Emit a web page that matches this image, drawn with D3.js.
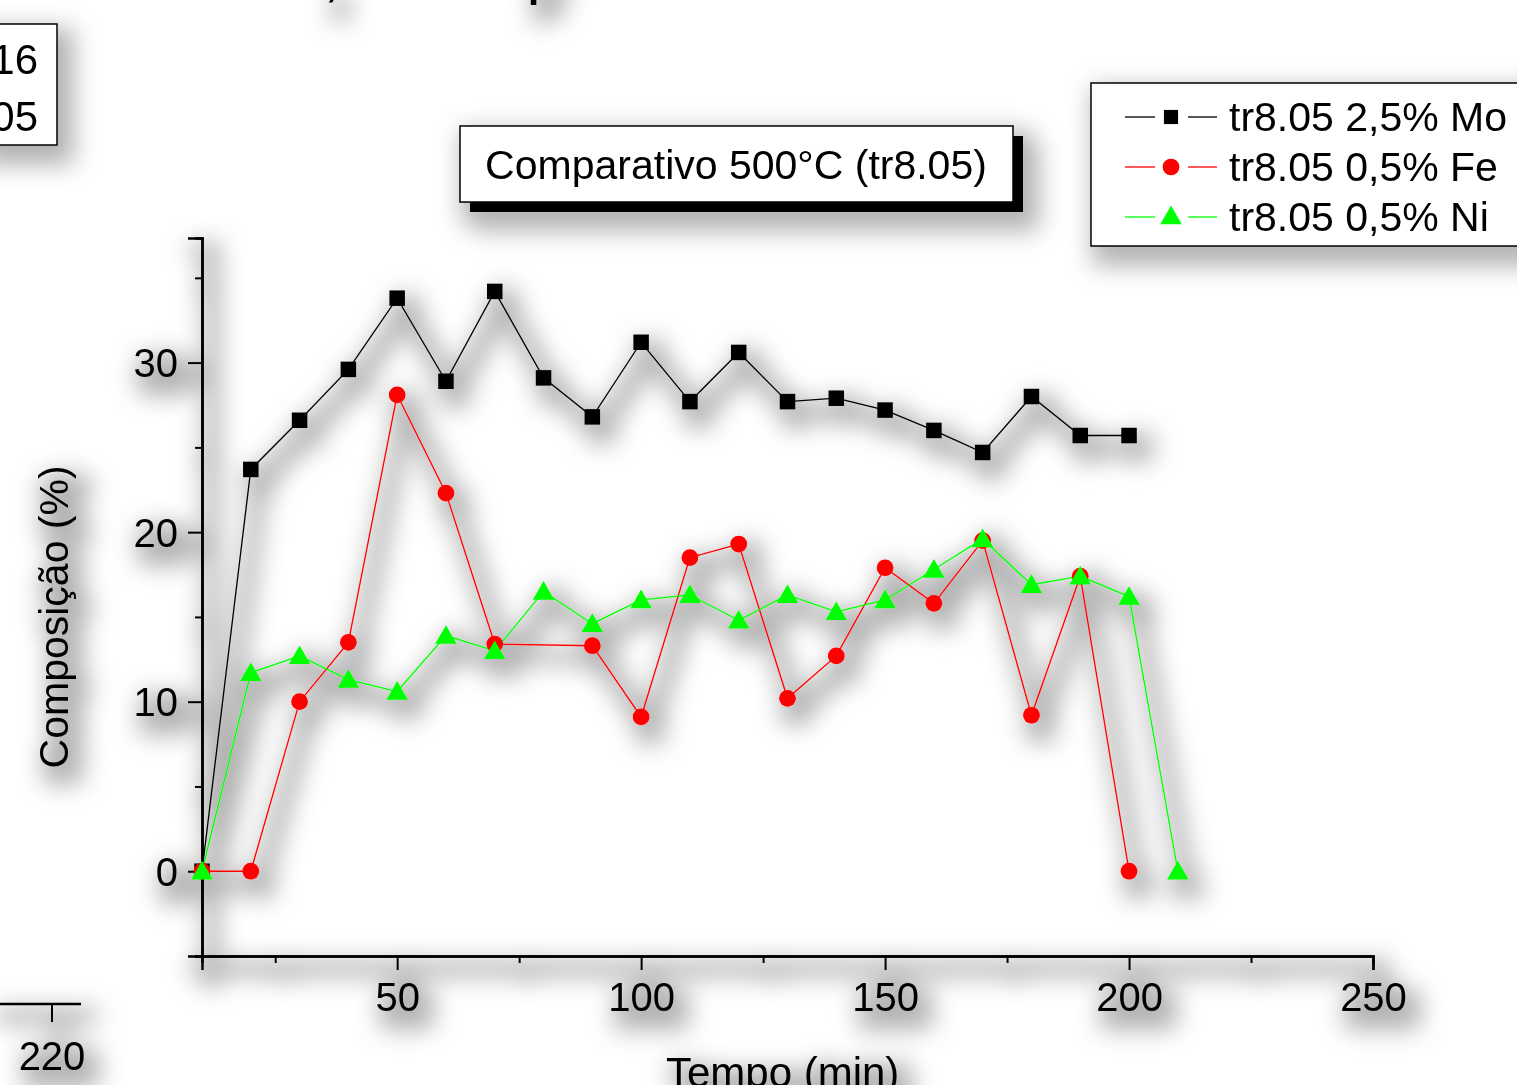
<!DOCTYPE html>
<html>
<head>
<meta charset="utf-8">
<script src="https://cdn.jsdelivr.net/npm/d3@7"></script>
<style>
  body { margin: 0; background: #fff; }
  svg { display: block; font-family: "Liberation Sans", Arial, sans-serif; }
</style>
</head>
<body>
<div id="chart"></div>
<script>
const W = 1517, H = 1085;

// data
const timeMo = [10, 20, 30, 40, 50, 60, 70, 80, 90, 100, 110, 120, 130, 140, 150, 160, 170, 180, 190, 200];
const valMo = [0, 23.7, 26.6, 29.6, 33.8, 28.9, 34.2, 29.1, 26.8, 31.2, 27.7, 30.6, 27.7, 27.9, 27.2, 26.0, 24.7, 28.0, 25.7, 25.7];
const timeFe = [10, 20, 30, 40, 50, 60, 70, 90, 100, 110, 120, 130, 140, 150, 160, 170, 180, 190, 200];
const valFe = [0, 0, 10.0, 13.5, 28.1, 22.3, 13.4, 13.3, 9.1, 18.5, 19.3, 10.2, 12.7, 17.9, 15.8, 19.5, 9.2, 17.4, 0];
const timeNi = [10, 20, 30, 40, 50, 60, 70, 80, 90, 100, 110, 120, 130, 140, 150, 160, 170, 180, 190, 200, 210];
const valNi = [0, 11.7, 12.7, 11.3, 10.6, 13.9, 13.0, 16.5, 14.6, 16.0, 16.3, 14.8, 16.3, 15.3, 16.0, 17.8, 19.6, 16.9, 17.4, 16.2, 0];

const seriesNames = ["tr8.05 2,5% Mo", "tr8.05 0,5% Fe", "tr8.05 0,5% Ni"];
const seriesColors = ["#000000", "#ff0000", "#00ff00"];
const seriesShapes = [d3.symbolSquare, d3.symbolCircle, d3.symbolTriangle];
const symSizes = [240, 220, 200];

const xTicks = [50, 100, 150, 200, 250];
const xMinor = [25, 75, 125, 175, 225];
const yTicks = [0, 10, 20, 30];
const yMinor = [-5, 5, 15, 25, 35];

const series = [
  { name: seriesNames[0], pts: timeMo.map((t, i) => [t, valMo[i]]) },
  { name: seriesNames[1], pts: timeFe.map((t, i) => [t, valFe[i]]) },
  { name: seriesNames[2], pts: timeNi.map((t, i) => [t, valNi[i]]) },
];

const svg = d3.select('#chart').append('svg')
  .attr('width', W)
  .attr('height', H);

// blurred drop shadow used everywhere
const defs = svg.append('defs');
const f = defs.append('filter').attr('id', 'sh')
  .attr('filterUnits', 'userSpaceOnUse')
  .attr('x', -200).attr('y', -200).attr('width', W + 400).attr('height', H + 400);
f.append('feMorphology').attr('in', 'SourceAlpha').attr('operator', 'dilate').attr('radius', 7).attr('result', 'd');
f.append('feGaussianBlur').attr('in', 'd').attr('stdDeviation', 12).attr('result', 'b');
f.append('feOffset').attr('in', 'b').attr('dx', 9).attr('dy', 12).attr('result', 'o');
f.append('feFlood').attr('flood-color', '#000').attr('flood-opacity', 0.3);
f.append('feComposite').attr('in2', 'o').attr('operator', 'in').attr('result', 's');
const fm = f.append('feMerge');
fm.append('feMergeNode').attr('in', 's');
fm.append('feMergeNode').attr('in', 'SourceGraphic');

const x = d3.scaleLinear().domain([10, 250]).range([202, 1373]);
const y = d3.scaleLinear().domain([-5, 37.35]).range([956, 238]);

const g = svg.append('g').attr('filter', 'url(#sh)');

// pieces of neighbouring graphs cut by the frame
g.append('text').attr('x', 326).attr('y', -4).attr('font-size', 40).attr('font-weight', 'bold').text(',');
g.append('text').attr('x', 528).attr('y', -3).attr('font-size', 40).attr('font-weight', 'bold').text('p');

const lb = g.append('g');
lb.append('rect').attr('x', -20).attr('y', 24).attr('width', 77).attr('height', 121)
  .attr('fill', '#fff').attr('stroke', '#000').attr('stroke-width', 1.5);
lb.append('text').attr('x', 38).attr('y', 74).attr('text-anchor', 'end').attr('font-size', 42).text('16');
lb.append('text').attr('x', 38).attr('y', 131).attr('text-anchor', 'end').attr('font-size', 42).text('05');

const bl = g.append('g');
bl.append('line').attr('x1', -5).attr('x2', 81).attr('y1', 1004).attr('y2', 1004).attr('stroke', '#000').attr('stroke-width', 2.5);
bl.append('line').attr('x1', 52).attr('x2', 52).attr('y1', 1004).attr('y2', 1022).attr('stroke', '#000').attr('stroke-width', 2);
bl.append('text').attr('x', 52).attr('y', 1070).attr('text-anchor', 'middle').attr('font-size', 40).text('220');

// axes
g.append('g').attr('transform', `translate(0,${y(-5)})`)
  .call(d3.axisBottom(x).tickValues(xTicks).tickSize(14).tickPadding(13).tickFormat(d3.format('d')));
g.append('g').attr('transform', `translate(0,${y(-5)})`)
  .call(d3.axisBottom(x).tickValues(xMinor).tickSize(7).tickFormat(''));
const yAxis = g.append('g').attr('transform', `translate(${x(10)},0)`)
  .call(d3.axisLeft(y).tickValues(yTicks).tickSize(14).tickPadding(10).tickFormat(d3.format('d')));
g.append('g').attr('transform', `translate(${x(10)},0)`)
  .call(d3.axisLeft(y).tickValues(yMinor).tickSize(7).tickFormat(''));

g.selectAll('.domain').attr('stroke', '#000').attr('stroke-width', 2.5);
g.selectAll('.tick line').attr('stroke', '#000').attr('stroke-width', 2);
g.selectAll('.tick text').attr('fill', '#000').attr('font-size', 40)
  .attr('font-family', '"Liberation Sans", Arial, sans-serif');
yAxis.selectAll('.tick text').attr('dy', '0.35em');

g.append('text')
  .attr('transform', `translate(68,${y(15)}) rotate(-90)`)
  .attr('text-anchor', 'middle').attr('font-size', 41).text('Composição (%)');
g.append('text')
  .attr('x', x(129)).attr('y', 1087)
  .attr('text-anchor', 'middle').attr('font-size', 42).text('Tempo (min)');

// lines and markers
const line = d3.line().x(d => x(d[0])).y(d => y(d[1]));
series.forEach((s, i) => {
  g.append('path').datum(s.pts)
    .attr('fill', 'none').attr('stroke', seriesColors[i]).attr('stroke-width', 1.3)
    .attr('d', line);
});
series.forEach((s, i) => {
  const sym = d3.symbol().type(seriesShapes[i]).size(symSizes[i]);
  g.selectAll('.m' + i).data(s.pts).enter().append('path')
    .attr('class', 'm' + i)
    .attr('transform', d => `translate(${x(d[0])},${y(d[1]) + (i === 2 ? 2 : 0)})`)
    .attr('d', sym)
    .attr('fill', seriesColors[i]);
});

// title box with solid shadow
const tb = g.append('g');
tb.append('rect').attr('x', 470).attr('y', 136).attr('width', 553).attr('height', 76).attr('fill', '#000');
tb.append('rect').attr('x', 460).attr('y', 126).attr('width', 553).attr('height', 76)
  .attr('fill', '#fff').attr('stroke', '#000').attr('stroke-width', 1.5);
tb.append('text').attr('x', 736).attr('y', 179).attr('text-anchor', 'middle').attr('font-size', 41)
  .text('Comparativo 500°C (tr8.05)');

// legend
const lg = g.append('g');
lg.append('rect').attr('x', 1091).attr('y', 83).attr('width', 460).attr('height', 163)
  .attr('fill', '#fff').attr('stroke', '#000').attr('stroke-width', 1.5);
seriesNames.forEach((n, i) => {
  const ly = 117 + i * 50;
  lg.append('line').attr('x1', 1125).attr('x2', 1155).attr('y1', ly).attr('y2', ly)
    .attr('stroke', seriesColors[i]).attr('stroke-width', 1.3);
  lg.append('line').attr('x1', 1188).attr('x2', 1217).attr('y1', ly).attr('y2', ly)
    .attr('stroke', seriesColors[i]).attr('stroke-width', 1.3);
  const sym = d3.symbol().type(seriesShapes[i]).size(i === 0 ? 200 : symSizes[i]);
  lg.append('path').attr('transform', `translate(1171,${ly + (i === 2 ? 1 : 0)})`)
    .attr('d', sym).attr('fill', seriesColors[i]);
  lg.append('text').attr('x', 1229).attr('y', ly + 14).attr('font-size', 41).text(n);
});
</script>
</body>
</html>
